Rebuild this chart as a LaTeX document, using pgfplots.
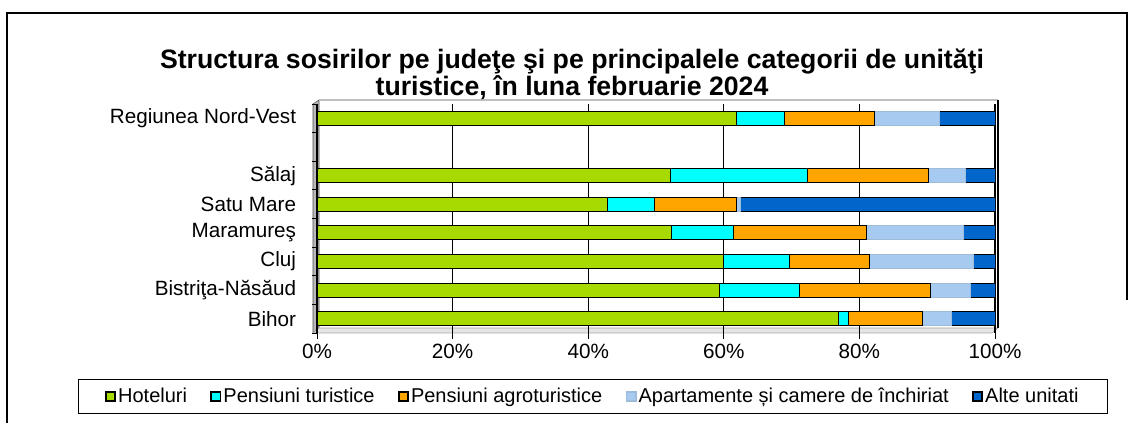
\documentclass[border=0pt]{standalone}
\usepackage{pgfplots}
\pgfplotsset{compat=1.18}
\usepackage{fontspec}
\setmainfont{Liberation Sans}

\definecolor{cHot}{RGB}{166,218,0}
\definecolor{cPens}{RGB}{0,255,255}
\definecolor{cAgro}{RGB}{255,165,0}
\definecolor{cApt}{RGB}{166,202,240}
\definecolor{cAlte}{RGB}{0,102,204}

\begin{document}
\begin{tikzpicture}
\useasboundingbox (0,0) rectangle (850.5pt,-317.25pt);

% --- frame, wall and floor (pixel units) ---
\begin{scope}[x=0.75pt, y=-0.75pt]
  \draw[black, line width=0.8pt] (7,423) -- (7,13) -- (1127,13) -- (1127,300);
  \filldraw[fill=gray!55, draw=black!70, line width=0.4pt]
    (313,104) -- (319,100) -- (319,328) -- (313,333) -- cycle;
  \filldraw[fill=gray!20, draw=gray!70, line width=0.4pt]
    (313,333) -- (319,328) -- (998,328) -- (992,333) -- cycle;
  \draw[gray!50, line width=0.8pt] (319,100) -- (998,100);
  \draw[black, line width=0.8pt] (998,100) -- (998,328);
  \node[font=\bfseries\fontsize{20}{20.25}\selectfont, align=center]
    at (572,74) {Structura sosirilor pe judeţe şi pe principalele categorii de unităţi\\turistice, în luna februarie 2024};
\end{scope}

\begin{axis}[
    at={(237.75pt,-249.75pt)},
    anchor=south west,
    scale only axis,
    width=508.5pt,
    height=171.75pt,
    xbar stacked,
    bar width=10.5pt,
    xmin=0, xmax=100,
    ymin=-0.5, ymax=7.5,
    xtick={0,20,40,60,80,100},
    xticklabels={0\%,20\%,40\%,60\%,80\%,100\%},
    ytick={0,1,2,3,4,5,7},
    yticklabels={Bihor,Bistriţa-Năsăud,Cluj,Maramureş,{Satu Mare\hspace{0.28em}},{Sălaj\hspace{0.28em}},Regiunea Nord-Vest},
    minor ytick={-0.5,0.5,...,7.5},
    axis line style={draw=none},
    xtick pos=bottom,
    ytick pos=left,
    tick align=outside,
    major tick length=4.5pt,
    minor tick length=4pt,
    major y tick style={draw=none},
    minor y tick style={black, line width=0.6pt},
    major x tick style={black, line width=0.6pt},
    xmajorgrids,
    grid style={black, line width=0.8pt},
    tick label style={font=\fontsize{15.5}{18}\selectfont},
    yticklabel style={inner sep=0pt, xshift=-11pt},
    legend columns=5,
    legend cell align=left,
    legend style={
        at={(-0.3525,-0.2009)},
        anchor=north west,
        draw=black,
        line width=0.6pt,
        font=\fontsize{15}{16.5}\selectfont,
        inner xsep=20pt,
        inner ysep=5pt,
        /tikz/every even column/.append style={column sep=16pt},
        nodes={inner sep=1.5pt}
    },
    legend image code/.code={
        \draw[#1, line width=1.3pt] (0pt,-3.5pt) rectangle (7pt,3.5pt);
    },
    every axis plot/.append style={line width=0.6pt}
]

\addplot[fill=cHot, draw=black] coordinates {
    (76.9,0) (59.4,1) (60.0,2) (52.2,3) (42.9,4) (52.1,5) (61.9,7)
};
\addplot[fill=cPens, draw=black] coordinates {
    (1.5,0) (11.8,1) (9.7,2) (9.2,3) (6.9,4) (20.2,5) (7.1,7)
};
\addplot[fill=cAgro, draw=black] coordinates {
    (10.9,0) (19.3,1) (11.7,2) (19.7,3) (12.1,4) (17.9,5) (13.2,7)
};
\addplot[fill=cApt, draw=cApt!80!gray] coordinates {
    (4.3,0) (5.9,1) (15.4,2) (14.2,3) (0.6,4) (5.5,5) (9.6,7)
};
\addplot[fill=cAlte, draw=black] coordinates {
    (6.5,0) (3.6,1) (3.2,2) (4.7,3) (37.5,4) (4.3,5) (8.2,7)
};

\legend{Hoteluri, Pensiuni turistice, Pensiuni agroturistice, Apartamente și camere de închiriat, Alte unitati}
\end{axis}
\end{tikzpicture}
\end{document}
